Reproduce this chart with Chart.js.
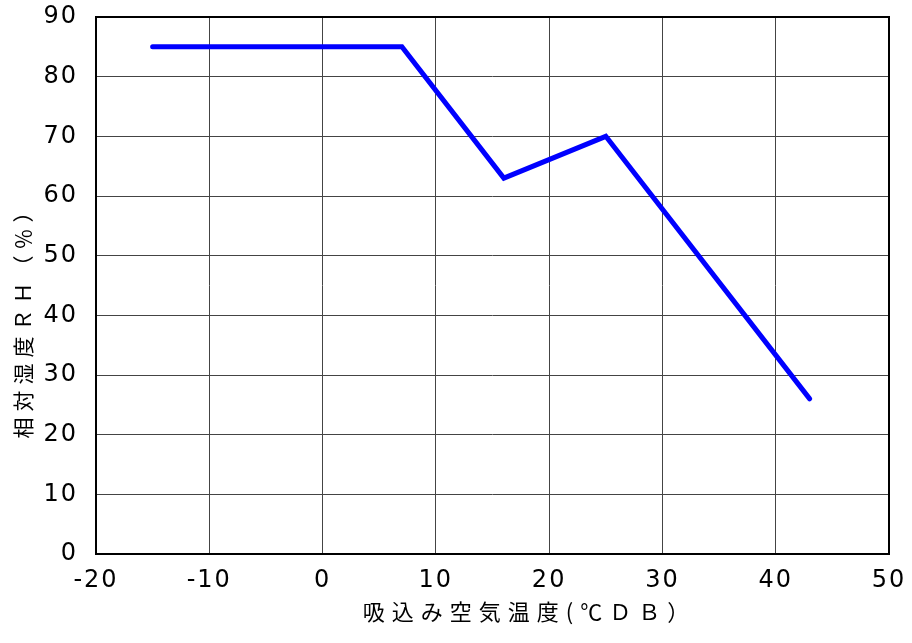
<!DOCTYPE html>
<html>
<head>
<meta charset="utf-8">
<script src="https://cdn.jsdelivr.net/npm/chart.js@4/dist/chart.umd.min.js"></script>
<style>
  body { margin: 0; background: #fff; }
  #wrap { width: 912px; height: 643px; }
</style>
</head>
<body>
<div id="wrap"><canvas id="rhChart" width="912" height="643"></canvas></div>
<script>
// 吸込み空気温度 (℃DB) と 相対湿度 (%)
const tempPoints = [-15, 7, 16, 25, 43];
const rhValues = [85, 85, 63, 70, 26];
const xTicks = [-20, -10, 0, 10, 20, 30, 40, 50];
const yTicks = [0, 10, 20, 30, 40, 50, 60, 70, 80, 90];
const xTitle = '吸込み空気温度(℃ＤＢ）';
const yTitle = '相対湿度ＲＨ（％）';

const TICK_FONT = '"DejaVu Sans", sans-serif';
const TITLE_FONT = '"Noto Sans CJK JP", sans-serif';

// 目盛ラベルの字間（元図のフォントが横に広い）
const spacingPlugin = {
    id: 'spacing',
    beforeLayout(chart) { chart.ctx.letterSpacing = '2px'; },
    beforeDraw(chart) { chart.ctx.letterSpacing = '2px'; }
};

// プロットエリアの黒枠
const framePlugin = {
    id: 'frame',
    beforeDatasetsDraw(chart) {
        const a = chart.chartArea;
        const ctx = chart.ctx;
        ctx.save();
        ctx.strokeStyle = '#000';
        ctx.lineWidth = 2;
        ctx.strokeRect(a.left, a.top, a.right - a.left, a.bottom - a.top);
        ctx.restore();
    }
};

// 軸タイトル（元図では中央からずれているので位置を指定して描く）
const axisTitlePlugin = {
    id: 'axisTitles',
    afterDraw(chart) {
        const ctx = chart.ctx;
        const xs = chart.scales.x;
        ctx.save();
        ctx.fillStyle = '#000';
        ctx.textAlign = 'center';
        ctx.textBaseline = 'middle';

        ctx.font = '22px ' + TITLE_FONT;
        ctx.letterSpacing = '7px';
        ctx.fillText(xTitle, xs.getPixelForValue(18) + 3, 612);

        ctx.font = '21px ' + TITLE_FONT;
        ctx.letterSpacing = '6px';
        ctx.translate(23, 320);
        ctx.rotate(-Math.PI / 2);
        ctx.fillText(yTitle, 3, 0);
        ctx.restore();
    }
};

document.addEventListener("DOMContentLoaded", function () {
    const canvas = document.getElementById('rhChart');
    new Chart(canvas.getContext('2d'), {
        type: 'scatter',
        data: {
            datasets: [{
                data: tempPoints.map((t, i) => ({ x: t, y: rhValues[i] })),
                showLine: true,
                borderColor: '#0000ff',
                borderWidth: 5,
                borderCapStyle: 'round',
                pointRadius: 0,
                tension: 0
            }]
        },
        options: {
            responsive: false,
            animation: false,
            layout: { padding: { top: 17, right: 23, left: 0, bottom: 0 } },
            plugins: {
                legend: { display: false },
                tooltip: { enabled: false }
            },
            scales: {
                x: {
                    type: 'linear',
                    min: -20,
                    max: 50,
                    afterBuildTicks(scale) { scale.ticks = xTicks.map(v => ({ value: v })); },
                    afterFit(scale) {
                        scale.height = 643 - 554;
                        scale.paddingLeft = 0;
                        scale.paddingRight = 0;
                    },
                    grid: { color: '#444', lineWidth: 1, drawTicks: false },
                    border: { display: false },
                    ticks: { color: '#000', padding: 12, font: { family: TICK_FONT, size: 24 } }
                },
                y: {
                    min: 0,
                    max: 90,
                    afterBuildTicks(scale) { scale.ticks = yTicks.map(v => ({ value: v })); },
                    afterFit(scale) {
                        scale.width = 96;
                        scale.paddingTop = 0;
                        scale.paddingBottom = 0;
                    },
                    grid: { color: '#444', lineWidth: 1, drawTicks: false },
                    border: { display: false },
                    ticks: { color: '#000', padding: 18, font: { family: TICK_FONT, size: 24 } }
                }
            }
        },
        plugins: [spacingPlugin, framePlugin, axisTitlePlugin]
    });
});
</script>
</body>
</html>
